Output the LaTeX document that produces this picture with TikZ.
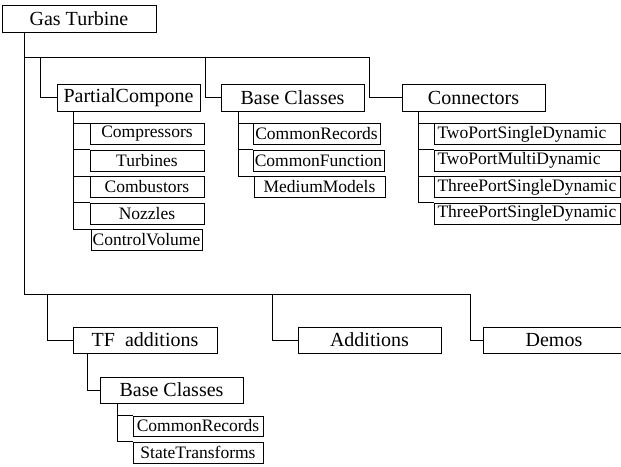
\documentclass[tikz,border=0pt]{standalone}
\usepackage{fontspec}
\setmainfont{Liberation Serif}
\newfontfamily\tnr{Liberation Serif}
\begin{document}
\begin{tikzpicture}[x=1pt,y=-1pt,
  box/.style={draw,line width=0.9pt,rectangle,inner sep=0pt,minimum height=27pt,minimum width=143pt,font=\tnr\fontsize{20}{20}\selectfont},
  sbox/.style={draw,line width=0.9pt,rectangle,inner sep=0pt,minimum height=21pt,font=\tnr\fontsize{17.5}{17.5}\selectfont},
  lbox/.style={sbox,text width=179pt,align=left,inner xsep=3.5pt},
  wire/.style={line width=0.9pt}]
\useasboundingbox (0,0) rectangle (621,466);
% top level
\node[box,minimum width=154pt] (gt) at (79,18.5) {Gas Turbine};
\node[box] (pc) at (128.5,97.5) {PartialCompone};
\node[box] (bc) at (292.5,97.5) {Base Classes};
\node[box] (cn) at (473.5,97.5) {Connectors};
% PartialCompone children
\node[sbox,minimum width=114pt] (comp) at (147,134) {Compressors};
\node[sbox,minimum width=114pt] (turb) at (147,160.5) {Turbines};
\node[sbox,minimum width=114pt] (comb) at (147,187) {Combustors};
\node[sbox,minimum width=114pt] (nozz) at (147,213.5) {Nozzles};
\node[sbox,minimum width=111pt] (cv) at (146.5,240) {ControlVolume};
% Base Classes children
\node[sbox,minimum width=127pt] (cr) at (316.5,134) {CommonRecords};
\node[sbox,minimum width=131pt] (cf) at (318.5,160.5) {CommonFunction};
\node[sbox,minimum width=131pt] (mm) at (319.5,187) {MediumModels};
% Connectors children
\node[lbox] (tpsd) at (527,134) {TwoPortSingleDynamic};
\node[lbox] (tpmd) at (527,160.5) {TwoPortMultiDynamic};
\node[lbox] (thsd) at (527,187) {ThreePortSingleDynamic};
\node[lbox] (thsd2) at (527,213.5) {ThreePortSingleDynamic};
% lower level
\node[box,minimum width=144pt,minimum height=26pt] (tf) at (145,340) {TF\ \ additions};
\node[box,minimum height=26pt] (ad) at (369.5,340) {Additions};
\node[box,minimum width=142pt,minimum height=26pt] (de) at (554,340) {Demos};
\node[box,minimum height=26pt] (bc2) at (171.5,390) {Base Classes};
\node[sbox,minimum width=130pt,minimum height=20pt] (cr2) at (198,426) {CommonRecords};
\node[sbox,minimum width=130pt] (st) at (198,452.5) {StateTransforms};
% coordinates
\coordinate (t1) at (24,57);
\coordinate (t2) at (24,294);
\coordinate (h1) at (369,57);
\coordinate (h2) at (470,294);
% trunk
\draw[wire] (gt.south -| t1) -- (t2) -- (h2) -- (h2 |- de.west) -- (de.west);
\draw[wire] (t1) -- (h1) -- (h1 |- cn.west) -- (cn.west);
\draw[wire] (40,57) -- (40,97.5) -- (pc.west);
\draw[wire] (205,57) -- (205,97.5) -- (bc.west);
\draw[wire] (47,294) -- (47,340) -- (tf.west);
\draw[wire] (272,294) -- (272,340) -- (ad.west);
% PartialCompone children
\draw[wire] (pc.south -| 73,0) -- (73,0 |- cv.north) -- (cv.north west);
\draw[wire] (73,0 |- comp.north) -- (comp.north west);
\draw[wire] (73,0 |- turb.north) -- (turb.north west);
\draw[wire] (73,0 |- comb.north) -- (comb.north west);
\draw[wire] (73,0 |- nozz.north) -- (nozz.north west);
% Base Classes children
\draw[wire] (bc.south -| 238,0) -- (238,0 |- mm.north) -- (mm.north west);
\draw[wire] (238,0 |- cr.north) -- (cr.north west);
\draw[wire] (238,0 |- cf.north) -- (cf.north west);
% Connectors children
\draw[wire] (cn.south -| 418,0) -- (418,0 |- thsd2.north) -- (thsd2.north west);
\draw[wire] (418,0 |- tpsd.north) -- (tpsd.north west);
\draw[wire] (418,0 |- tpmd.north) -- (tpmd.north west);
\draw[wire] (418,0 |- thsd.north) -- (thsd.north west);
% lower Base Classes
\draw[wire] (tf.south -| 87,0) -- (87,390) -- (bc2.west);
\draw[wire] (bc2.south -| 117,0) -- (117,0 |- st.north) -- (st.north west);
\draw[wire] (117,0 |- cr2.north) -- (cr2.north west);
\end{tikzpicture}
\end{document}
